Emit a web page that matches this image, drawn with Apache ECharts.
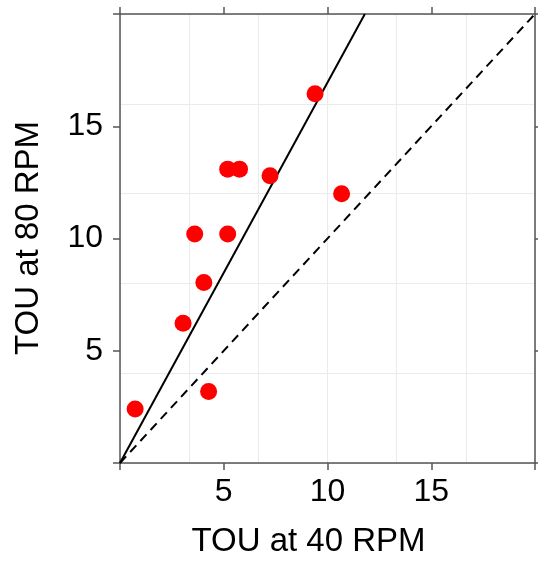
<!DOCTYPE html>
<html>
<head>
<meta charset="utf-8">
<script src="https://cdn.jsdelivr.net/npm/echarts@6/dist/echarts.min.js"></script>
<style>
html,body{margin:0;padding:0;background:#fff;}
#chart{width:538px;height:562px;}
</style>
</head>
<body>
<div id="chart"></div>
<script>
// Data
const tou40 = [0.73, 3.04, 3.6, 4.04, 4.27, 5.19, 5.19, 5.76, 7.23, 9.4, 10.68];
const tou80 = [2.41, 6.23, 10.2, 8.04, 3.18, 10.2, 13.09, 13.09, 12.8, 16.45, 11.99];
const fitLineX = [0, 11.8];
const fitLineY = [0, 20];
const identityX = [0, 20];
const identityY = [0, 20];
const axisTicks = [0, 5, 10, 15, 20];
const tickLabels = ['5', '10', '15'];
const xTitle = 'TOU at 40 RPM';
const yTitle = 'TOU at 80 RPM';

const FONT = '"Liberation Sans", Arial, sans-serif';
const AX = '#555555';
const pairs = (xs, ys) => xs.map((v, i) => [v, ys[i]]);

const labelFmt = v => (tickLabels.indexOf(String(v)) >= 0 ? String(v) : '');

function frameAxis(extra) {
  return Object.assign({
    type: 'value', min: 0, max: 20, interval: 5,
    axisLine: {show: true, onZero: false, lineStyle: {color: AX, width: 1.5}},
    axisTick: {show: true, inside: false, length: 7, lineStyle: {color: AX, width: 1.5}},
    axisLabel: {show: false},
    splitLine: {show: false}
  }, extra);
}

const chart = echarts.init(document.getElementById('chart'), null, {renderer: 'canvas'});
chart.setOption({
  animation: false,
  backgroundColor: '#ffffff',
  grid: {left: 120, right: 1, top: 14, bottom: 99, containLabel: false},
  xAxis: [
    frameAxis({position: 'bottom',
      axisLabel: {show: true, formatter: labelFmt, margin: 13, color: '#000', fontSize: 32, fontFamily: FONT}}),
    frameAxis({position: 'top'}),
    {type: 'value', min: 0, max: 20, interval: 10 / 3, position: 'bottom',
      axisLine: {show: false}, axisTick: {show: false}, axisLabel: {show: false},
      splitLine: {show: true, lineStyle: {color: '#ebebeb', width: 1}}}
  ],
  yAxis: [
    frameAxis({position: 'left',
      axisLabel: {show: true, formatter: labelFmt, margin: 17, color: '#000', fontSize: 32, fontFamily: FONT}}),
    frameAxis({position: 'right'}),
    {type: 'value', min: 0, max: 20, interval: 4, position: 'left',
      axisLine: {show: false}, axisTick: {show: false}, axisLabel: {show: false},
      splitLine: {show: true, lineStyle: {color: '#ebebeb', width: 1}}}
  ],
  series: [
    {type: 'line', data: pairs(identityX, identityY), showSymbol: false, symbol: 'none',
      lineStyle: {color: '#000', width: 2, type: [9, 6]}, z: 3},
    {type: 'line', data: pairs(fitLineX, fitLineY), showSymbol: false, symbol: 'none',
      lineStyle: {color: '#000', width: 2}, z: 3},
    {type: 'scatter', data: pairs(tou40, tou80), symbol: 'circle', symbolSize: 17,
      itemStyle: {color: '#ff0000', opacity: 1}, z: 4}
  ],
  graphic: [
    {type: 'text', x: 308.5, y: 542, style: {text: xTitle, font: '33px ' + FONT, fill: '#000',
      textAlign: 'center', textVerticalAlign: 'middle'}},
    {type: 'text', x: 29, y: 238, rotation: Math.PI / 2, style: {text: yTitle, font: '33px ' + FONT, fill: '#000',
      textAlign: 'center', textVerticalAlign: 'middle'}}
  ]
});
</script>
</body>
</html>
